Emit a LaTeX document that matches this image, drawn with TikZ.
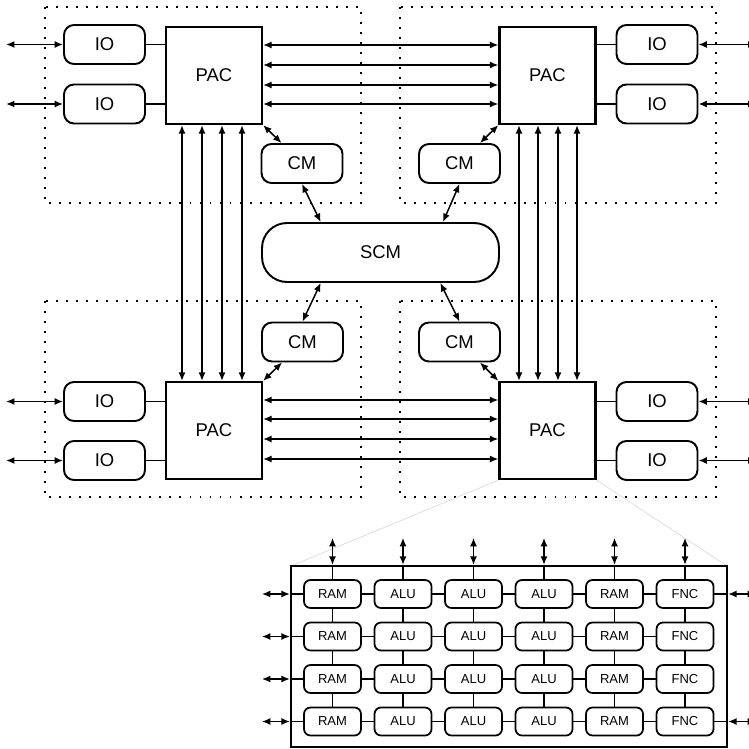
\documentclass[tikz,border=0pt]{standalone}
\usepackage{fontspec}
\setmainfont{Liberation Sans}
\usetikzlibrary{arrows.meta}

\tikzset{
  pac/.style={draw, line width=1.3pt, minimum width=1.92cm, minimum height=1.94cm, inner sep=0pt, font=\fontsize{10.5}{12}\selectfont},
  io/.style={draw, line width=1.1pt, rounded corners=0.2cm, minimum width=1.62cm, minimum height=0.78cm, inner sep=0pt, font=\fontsize{10.5}{12}\selectfont},
  cell/.style={draw, line width=1pt, rounded corners=0.13cm, minimum width=1.14cm, minimum height=0.56cm, inner sep=0pt, font=\fontsize{7.4}{8}\selectfont},
  link/.style={line width=0.85pt},
  bus/.style={line width=0.85pt, {Latex[length=4.8pt,width=4pt]}-{Latex[length=4.8pt,width=4pt]}},
  zone/.style={line width=1.1pt, dash pattern=on 1.1pt off 4.6pt},
}

\begin{document}
\begin{tikzpicture}[x=0.02cm,y=-0.02cm]
    \useasboundingbox (0,0) rectangle (749,749);
    \clip (0,0) rectangle (749,749);

    % Dotted zones
    \draw[zone] (45,7) rectangle (361,203);
    \draw[zone] (400,7) rectangle (716,203);
    \draw[zone] (45,301) rectangle (361,497);
    \draw[zone] (400,301) rectangle (716,497);

    % PACs
    \node[pac] (pacTL) at (214,75.5) {PAC};
    \node[pac] (pacTR) at (547.5,75.5) {PAC};
    \node[pac] (pacBL) at (214,430.5) {PAC};
    \node[pac] (pacBR) at (547.5,430.5) {PAC};

    % IO blocks
    \node[io] (ioTL1) at (104.5,44.5) {IO};
    \node[io] (ioTL2) at (104.5,104) {IO};
    \node[io] (ioTR1) at (657,44.5) {IO};
    \node[io] (ioTR2) at (657,104) {IO};
    \node[io] (ioBL1) at (104.5,401.5) {IO};
    \node[io] (ioBL2) at (104.5,460.5) {IO};
    \node[io] (ioBR1) at (657,401.5) {IO};
    \node[io] (ioBR2) at (657,460.5) {IO};

    % CMs and SCM
    \node[io] (cmTL) at (302,163.5) {CM};
    \node[io] (cmTR) at (459.5,163.5) {CM};
    \node[io] (cmBL) at (302.5,342) {CM};
    \node[io] (cmBR) at (459.5,342) {CM};
    \node[io, rounded corners=0.5cm, minimum width=4.74cm, minimum height=1.18cm] (scm) at (380.5,252.5) {SCM};

    % IO links
    \draw[link] (ioTL1.east) -- (pacTL.west |- ioTL1.east);
    \draw[link] (ioTL2.east) -- (pacTL.west |- ioTL2.east);
    \draw[link] (ioTR1.west) -- (pacTR.east |- ioTR1.west);
    \draw[link] (ioTR2.west) -- (pacTR.east |- ioTR2.west);
    \draw[link] (ioBL1.east) -- (pacBL.west |- ioBL1.east);
    \draw[link] (ioBL2.east) -- (pacBL.west |- ioBL2.east);
    \draw[link] (ioBR1.west) -- (pacBR.east |- ioBR1.west);
    \draw[link] (ioBR2.west) -- (pacBR.east |- ioBR2.west);
    \draw[bus] (ioTL1.west) -- ++(-57,0);
    \draw[bus] (ioTL2.west) -- ++(-57,0);
    \draw[bus] (ioBL1.west) -- ++(-57,0);
    \draw[bus] (ioBL2.west) -- ++(-57,0);
    \draw[bus] (ioTR1.east) -- ++(58,0);
    \draw[bus] (ioTR2.east) -- ++(58,0);
    \draw[bus] (ioBR1.east) -- ++(58,0);
    \draw[bus] (ioBR2.east) -- ++(58,0);

    % PAC buses
    \foreach \y in {45,65,85,104}
        \draw[bus] (pacTL.east |- 0,\y) -- (pacTR.west |- 0,\y);
    \foreach \y in {400,419,439,459}
        \draw[bus] (pacBL.east |- 0,\y) -- (pacBR.west |- 0,\y);
    \foreach \x in {182,202,222,242}
        \draw[bus] (pacTL.south -| \x,0) -- (pacBL.north -| \x,0);
    \foreach \x in {519,538,558,577}
        \draw[bus] (pacTR.south -| \x,0) -- (pacBR.north -| \x,0);

    % CM links
    \draw[bus] (pacTL.south east) -- (cmTL.135);
    \draw[bus] (pacTR.south west) -- (cmTR.45);
    \draw[bus] (pacBL.north east) -- (cmBL.-135);
    \draw[bus] (pacBR.north west) -- (cmBR.-45);
    \draw[bus] (cmTL.south) -- (scm.153);
    \draw[bus] (cmTR.south) -- (scm.26);
    \draw[bus] (cmBL.north) -- (scm.207);
    \draw[bus] (cmBR.north) -- (scm.-27);

    % Zoomed PAC array
    \draw[gray!35, line width=0.3pt] (pacBR.south west) -- (291,566);
    \draw[gray!35, line width=0.3pt] (pacBR.south east) -- (727,566);
    \node[draw, line width=1.3pt, minimum width=8.72cm, minimum height=3.62cm, inner sep=0pt] (arr) at (509,656.5) {};

    \foreach \lab [count=\c] in {RAM,ALU,ALU,ALU,RAM,FNC} {
        \foreach \r in {1,...,4}
            \node[cell] (u\r\c) at ({262+70.5*\c},{551.5+42.5*\r}) {\lab};
    }
    \foreach \r in {1,...,4} {
        \foreach \c [evaluate=\c as \n using int(\c+1)] in {1,...,5}
            \draw[link] (u\r\c) -- (u\r\n);
        \draw[link] (arr.west |- u\r1.west) -- (u\r1.west);
        \draw[bus] (arr.west |- u\r1.west) -- ++(-28,0);
    }
    \foreach \c in {1,...,6} {
        \foreach \r [evaluate=\r as \n using int(\r+1)] in {1,...,3}
            \draw[link] (u\r\c) -- (u\n\c);
        \draw[link] (u1\c.north) -- (arr.north -| u1\c.north);
        \draw[bus] (arr.north -| u1\c.north) -- ++(0,-27);
    }
    \foreach \r in {1,4} {
        \draw[link] (u\r6.east) -- (arr.east |- u\r6.east);
        \draw[bus] (arr.east |- u\r6.east) -- ++(28,0);
    }
\end{tikzpicture}
\end{document}
